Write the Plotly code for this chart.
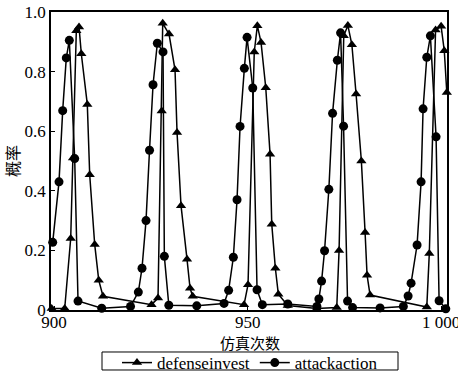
import plotly.graph_objects as go

# Data
defense_x = [899.38, 902.74, 904.29, 904.88, 905.74, 906.44, 907.03, 908.58, 909.20, 910.49,
             911.53, 912.64, 925.17, 926.85, 927.80, 928.06, 929.69, 931.24, 931.76, 932.79,
             934.34, 935.12, 935.81, 949.07, 950.10, 951.71, 952.51, 953.46, 954.68, 955.79,
             956.23, 957.16, 957.93, 960.36, 967.86, 973.02, 973.62, 974.83, 975.89, 976.93,
             978.01, 979.38, 980.34, 980.85, 981.63, 996.28, 996.93, 998.55, 999.98, 1000.80,
             1001.45]
defense_y = [0.005, 0.005, 0.24, 0.51, 0.937, 0.95, 0.86, 0.69, 0.454, 0.22,
             0.10, 0.046, 0.018, 0.04, 0.668, 0.962, 0.926, 0.806, 0.596, 0.35,
             0.17, 0.073, 0.046, 0.018, 0.085, 0.866, 0.954, 0.898, 0.746, 0.523,
             0.288, 0.14, 0.053, 0.015, 0.005, 0.008, 0.2, 0.92, 0.955, 0.89,
             0.725, 0.5, 0.26, 0.117, 0.05, 0.01, 0.19, 0.94, 0.952, 0.87,
             0.73]

attack_x = [899.64, 901.27, 902.22, 903.15, 903.93, 905.32, 906.18, 912.30, 919.74, 921.76,
            922.71, 923.75, 924.65, 925.56, 926.67, 928.14, 928.48, 929.64, 936.85, 943.90,
            945.09, 946.31, 947.26, 948.04, 949.15, 949.85, 951.32, 952.43, 953.80, 960.36,
            967.90, 968.40, 969.10, 969.87, 970.98, 971.94, 973.18, 974.01, 974.78, 975.81,
            977.11, 984.21, 990.23, 991.45, 992.22, 993.77, 994.81, 995.32, 996.28, 997.21,
            998.68, 999.46, 1001.19]
attack_y = [0.227, 0.43, 0.669, 0.846, 0.905, 0.508, 0.03, 0.006, 0.012, 0.06,
            0.14, 0.30, 0.536, 0.756, 0.895, 0.866, 0.18, 0.016, 0.014, 0.022,
            0.066, 0.177, 0.37, 0.616, 0.811, 0.915, 0.745, 0.068, 0.018, 0.02,
            0.012, 0.037, 0.097, 0.199, 0.405, 0.66, 0.838, 0.93, 0.617, 0.03,
            0.008, 0.007, 0.012, 0.047, 0.09, 0.218, 0.43, 0.675, 0.848, 0.92,
            0.581, 0.031, 0.004]

x_tickvals = [900, 950, 1000]
x_ticktext = ["900", "950", "1 000"]
y_tickvals = [0, 0.2, 0.4, 0.6, 0.8, 1.0]
y_ticktext = ["0", "0.2", "0.4", "0.6", "0.8", "1.0"]
x_title = "仿真次数"
y_title = "概率"

serif = "Liberation Serif"
cjk = "Noto Sans CJK SC"

fig = go.Figure()
fig.add_trace(go.Scatter(
    x=defense_x, y=defense_y, name="defenseinvest", mode="lines+markers",
    line=dict(color="black", width=1.5),
    marker=dict(symbol="triangle-up", size=9, color="black"),
    cliponaxis=False,
))
fig.add_trace(go.Scatter(
    x=attack_x, y=attack_y, name="attackaction", mode="lines+markers",
    line=dict(color="black", width=1.5),
    marker=dict(symbol="circle", size=9, color="black"),
    cliponaxis=False,
))

fig.update_layout(
    width=458, height=380,
    margin=dict(l=51, r=11, t=12, b=70, autoexpand=False),
    paper_bgcolor="white", plot_bgcolor="white",
    font=dict(family=serif, size=17, color="black"),
    showlegend=True,
    legend=dict(
        orientation="h", x=0.5025, xanchor="center", y=-0.178, yanchor="middle",
        borderwidth=0, bgcolor="rgba(0,0,0,0)",
        font=dict(family=serif, size=17, color="black"),
        itemwidth=30, tracegroupgap=0,
    ),
    xaxis=dict(
        range=[899.2, 1001.5], tickvals=x_tickvals, ticktext=x_ticktext,
        showline=True, linecolor="black", linewidth=1.5, mirror=True,
        ticks="inside", ticklen=4, tickcolor="black", showgrid=False, zeroline=False,
        tickfont=dict(family=serif, size=17, color="black"), ticklabeloverflow="allow",
        ticklabelstandoff=-4, automargin=False,
    ),
    yaxis=dict(
        range=[0, 1.0], tickvals=y_tickvals, ticktext=y_ticktext,
        showline=True, linecolor="black", linewidth=1.5, mirror=True,
        ticks="inside", ticklen=4, tickcolor="black", showgrid=False, zeroline=False,
        tickfont=dict(family=serif, size=17, color="black"), automargin=False,
    ),
    shapes=[
        dict(type="rect", xref="paper", yref="paper",
             x0=0.1288, x1=0.8763, y0=-0.2013, y1=-0.1409,
             line=dict(color="black", width=1), fillcolor="rgba(0,0,0,0)"),
    ],
    annotations=[
        dict(text=x_title, xref="paper", yref="paper", x=0.5025, y=-0.11,
             xanchor="center", yanchor="middle", showarrow=False,
             font=dict(family=cjk, size=15, color="black")),
        dict(text=y_title, xref="paper", yref="paper", x=-0.0985, y=0.5,
             xanchor="center", yanchor="middle", showarrow=False, textangle=-90,
             font=dict(family=cjk, size=16, color="black")),
    ],
)

fig.write_html("out.html", config={"displayModeBar": False},
               post_script="document.body.style.margin='0';")
